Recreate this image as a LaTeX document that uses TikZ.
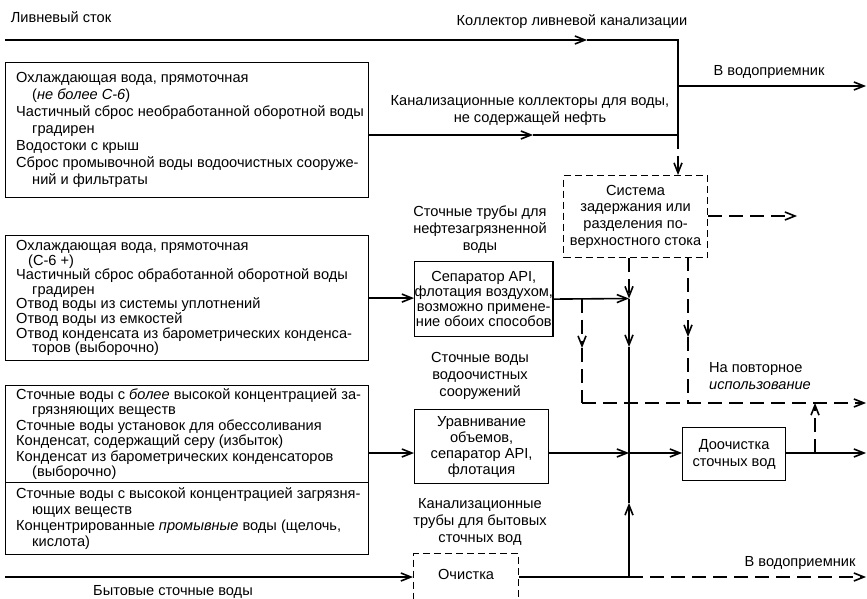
\documentclass[tikz,border=0pt]{standalone}
\usepackage{fontspec}
\setmainfont{Liberation Sans}
\usetikzlibrary{arrows.meta}
\newcommand{\ind}{\hspace*{16bp}}
\begin{document}
\begin{tikzpicture}[x=1bp,y=-1bp,
  every node/.style={font=\fontsize{14.6bp}{17bp}\selectfont, inner sep=0pt},
  boxs/.style={draw, line width=1.2bp, inner sep=0pt},
  dbox/.style={boxs, dash pattern=on 7bp off 4bp},
  pipe/.style={line width=1.6bp},
  dpipe/.style={pipe, dash pattern=on 14bp off 7bp},
  tip/.style={-{Straight Barb[length=10bp,width=8bp]}},
  lbl/.style={align=center}]
\useasboundingbox (0,0) rectangle (867,599);
\clip (0,0) rectangle (867,599);

% left boxes
\node[boxs, anchor=north west, minimum width=363bp, minimum height=135bp] (box1) at (5,62) {};
\node[anchor=west, align=left] (t1) at ([xshift=11bp]box1.west) {Охлаждающая вода, прямоточная\\
\ind(\textit{не более С-6})\\
Частичный сброс необработанной оборотной воды\\
\ind градирен\\
Водостоки с крыш\\
Сброс промывочной воды водоочистных сооруже-\\
\ind ний и фильтраты};

\node[boxs, anchor=north west, minimum width=363bp, minimum height=125bp] (box2) at (5,235) {};
\node[anchor=west, align=left, font=\fontsize{14.6bp}{14.6bp}\selectfont] (t2) at ([xshift=11bp]box2.west) {Охлаждающая вода, прямоточная\\
\hspace*{12bp}(С-6 +)\\
Частичный сброс обработанной оборотной воды\\
\ind градирен\\
Отвод воды из системы уплотнений\\
Отвод воды из емкостей\\
Отвод конденсата из барометрических конденса-\\
\ind торов (выборочно)};

\node[boxs, anchor=north west, minimum width=363bp, minimum height=97bp] (box3) at (5,385) {};
\node[anchor=west, align=left, font=\fontsize{14.6bp}{15.4bp}\selectfont] (t3) at ([xshift=11bp]box3.west) {Сточные воды с \textit{более} высокой концентрацией за-\\
\ind грязняющих веществ\\
Сточные воды установок для обессоливания\\
Конденсат, содержащий серу (избыток)\\
Конденсат из барометрических конденсаторов\\
\ind(выборочно)};

\node[boxs, anchor=north west, minimum width=363bp, minimum height=72bp] (box4) at (5,482) {};
\node[anchor=west, align=left, font=\fontsize{14.6bp}{16bp}\selectfont] (t4) at ([xshift=11bp]box4.west) {Сточные воды с высокой концентрацией загрязня-\\
\ind ющих веществ\\
Концентрированные \textit{промывные} воды (щелочь,\\
\ind кислота)};

% process boxes
\node[boxs, anchor=north west, minimum width=135bp, minimum height=75bp, align=center, font=\fontsize{14.6bp}{15bp}\selectfont] (sep) at (414,261) {Сепаратор API,\\флотация воздухом,\\возможно примене-\\ние обоих способов};
\node[dbox, anchor=north west, minimum width=144bp, minimum height=82bp, align=center, font=\fontsize{14.6bp}{16.7bp}\selectfont] (sys) at (563,175) {Система\\задержания или\\разделения по-\\верхностного стока};
\node[boxs, anchor=north west, minimum width=134bp, minimum height=74bp, align=center, font=\fontsize{14.6bp}{16bp}\selectfont] (urav) at (414,409) {Уравнивание\\объемов,\\сепаратор API,\\флотация};
\node[boxs, anchor=north west, minimum width=103bp, minimum height=53bp, align=center] (doo) at (682,427) {Доочистка\\сточных вод};
\node[dbox, anchor=north west, minimum width=105bp, minimum height=48bp] (och) at (413,553) {\raisebox{6bp}{Очистка}};

% labels
\node (lliv) at (61,17) {Ливневый сток};
\node (lkol) at (572,22) {Коллектор ливневой канализации};
\node[lbl] (lkan) at (530,110) {Канализационные коллекторы для воды,\\не содержащей нефть};
\node (lvod1) at (769,72) {В водоприемник};
\node[lbl] (lneft) at (480,230) {Сточные трубы для\\нефтезагрязненной\\воды};
\node[lbl] (lvodo) at (480,376) {Сточные воды\\водоочистных\\сооружений};
\node[lbl] (lbyt) at (480,522) {Канализационные\\трубы для бытовых\\сточных вод};
\node[align=left, anchor=north west] (lpov) at (709,362) {На повторное\\\textit{использование}};
\node (lvod2) at (800,563) {В водоприемник};
\node (lbs) at (173,592) {Бытовые сточные воды};

% coordinates
\coordinate (tl) at (5,40);
\coordinate (ta) at (587,40);
\coordinate (tr) at (678,40);
\coordinate (j1) at (678,135);
\coordinate (b1o) at (368,135);
\coordinate (b1a) at (533,135);
\coordinate (jv) at (678,86);
\coordinate (ev1) at (866,86);
\coordinate (m1) at (629,298.5);
\coordinate (md) at (629,347);
\coordinate (m2) at (629,453);
\coordinate (mu) at (629,503);
\coordinate (m3) at (629,577);
\coordinate (u3) at (368,453);
\coordinate (uo) at (548,453);
\coordinate (d1a) at (582,298.5);
\coordinate (d1m) at (582,348);
\coordinate (d1b) at (582,403);
\coordinate (d2a) at (688,257);
\coordinate (d2m) at (688,337);
\coordinate (d2b) at (688,403);
\coordinate (er) at (866,403);
\coordinate (up1) at (815,453);
\coordinate (up2) at (815,403);
\coordinate (ed) at (866,453);
\coordinate (eo) at (866,577);
\coordinate (bs) at (5,577);
\coordinate (sysr) at (797,216);

% solid connectors
\draw[pipe, tip] (tl) -- (ta);
\draw[pipe] (ta) -- (tr) -- (j1);
\draw[pipe, tip] (b1o) -- (b1a);
\draw[pipe] (b1a) -- (j1);
\draw[pipe, tip] (jv) -- (ev1);
\draw[pipe, tip] (box2.east) -- (box2.east -| sep.west);
\draw[pipe, tip] (sep.east) -- (m1);
\draw[pipe, tip] (m1) -- (md);
\draw[pipe] (md) -- (m2);
\draw[pipe, tip] (u3) -- (u3 -| urav.west);
\draw[pipe, tip] (uo) -- (m2);
\draw[pipe, tip] (m2) -- (m2 -| doo.west);
\draw[pipe, tip] (doo.east |- m2) -- (ed);
\draw[pipe] (och.east |- m3) -- (m3);
\draw[pipe, tip] (m3) -- (mu);
\draw[pipe] (mu) -- (m2);
\draw[pipe, tip] (bs) -- (bs -| och.west);

% dashed connectors
\draw[dpipe, tip] (j1) -- (j1 |- sys.north);
\draw[dpipe, tip] (sys.east |- sysr) -- (sysr);
\draw[dpipe, tip] (m1 |- sys.south) -- (m1);
\draw[dpipe, tip] (d1a) -- (d1m);
\draw[dpipe] (d1m) -- (d1b);
\draw[dpipe, tip] (d2a) -- (d2m);
\draw[dpipe] (d2m) -- (d2b);
\draw[dpipe, tip] (d1b) -- (er);
\draw[dpipe, tip] (up1) -- (up2);
\draw[dpipe, tip] (m3) -- (eo);
\end{tikzpicture}
\end{document}
